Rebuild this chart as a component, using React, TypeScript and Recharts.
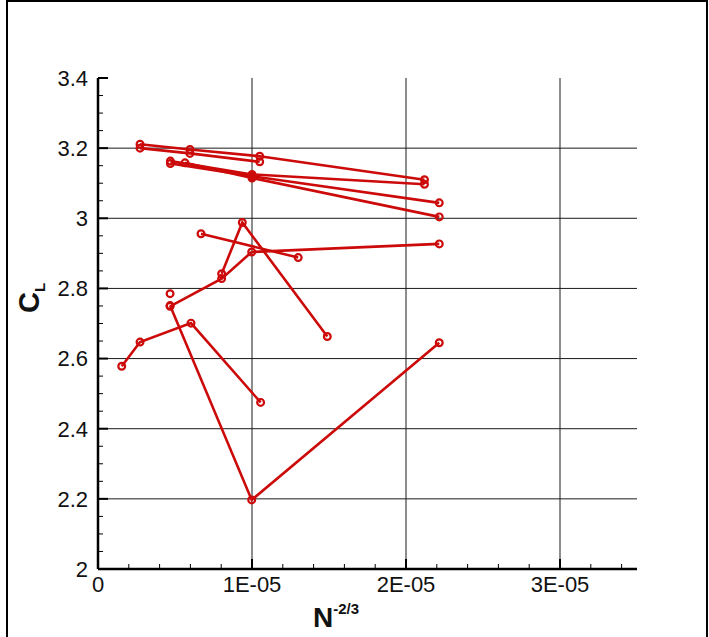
import { CartesianGrid, Scatter, ScatterChart, XAxis, YAxis } from "recharts";

// each run: [N^-2/3, CL]
const runA = [
  { x: 0.669e-5, y: 2.956 },
  { x: 1.3e-5, y: 2.888 },
];
const runB = [
  { x: 0.803e-5, y: 2.842 },
  { x: 0.937e-5, y: 2.988 },
  { x: 1.489e-5, y: 2.663 },
];
const runC = [
  { x: 0.468e-5, y: 2.749 },
  { x: 0.803e-5, y: 2.828 },
  { x: 0.998e-5, y: 2.904 },
  { x: 2.216e-5, y: 2.927 },
];
const runD = [
  { x: 0.468e-5, y: 2.751 },
  { x: 0.998e-5, y: 2.197 },
  { x: 2.216e-5, y: 2.645 },
];
const runE = [
  { x: 0.154e-5, y: 2.578 },
  { x: 0.273e-5, y: 2.647 },
  { x: 0.604e-5, y: 2.701 },
  { x: 1.056e-5, y: 2.475 },
];
const runF = [
  { x: 0.273e-5, y: 3.211 },
  { x: 0.597e-5, y: 3.196 },
  { x: 1.05e-5, y: 3.177 },
  { x: 2.12e-5, y: 3.11 },
];
const runG = [
  { x: 0.273e-5, y: 3.2 },
  { x: 0.597e-5, y: 3.185 },
  { x: 1.05e-5, y: 3.161 },
];
const runH = [
  { x: 0.47e-5, y: 3.163 },
  { x: 1.0e-5, y: 3.125 },
  { x: 2.12e-5, y: 3.097 },
];
const runI = [
  { x: 0.47e-5, y: 3.156 },
  { x: 1.0e-5, y: 3.12 },
  { x: 2.216e-5, y: 3.044 },
];
const runJ = [
  { x: 0.565e-5, y: 3.158 },
  { x: 1.0e-5, y: 3.115 },
  { x: 2.216e-5, y: 3.004 },
];
const runK = [{ x: 0.468e-5, y: 2.785 }];

const runs = [runA, runB, runC, runD, runE, runF, runG, runH, runI, runJ, runK];

const yMajor = [2, 2.2, 2.4, 2.6, 2.8, 3, 3.2, 3.4];
const yTicks = yMajor.flatMap((v) => (v < 3.4 ? [v, v + 0.05, v + 0.1, v + 0.15] : [v]));
const yGrid = [2.2, 2.4, 2.6, 2.8, 3, 3.2];

const xMajor = [0, 1e-5, 2e-5, 3e-5];
const xLabels = ["0", "1E-05", "2E-05", "3E-05"];
const xTicks = [
  0, 0.2e-5, 0.4e-5, 0.6e-5, 0.8e-5, 1e-5, 1.2e-5, 1.4e-5, 1.6e-5, 1.8e-5, 2e-5,
  2.2e-5, 2.4e-5, 2.6e-5, 2.8e-5, 3e-5, 3.2e-5, 3.4e-5,
];
const xGrid = [1e-5, 2e-5, 3e-5];

const RED = "#cc0a0a";
const FONT = "'Liberation Sans', Arial, Helvetica, sans-serif";

function YTick({ x, y, payload }: any) {
  const v = payload.value as number;
  const major = Math.abs(v * 5 - Math.round(v * 5)) < 1e-6;
  return (
    <g>
      <line x1={x} x2={x + (major ? 10 : 5)} y1={y} y2={y} stroke="#000" strokeWidth={major ? 2 : 1} />
      {major && (
        <text x={x - 10} y={y} dy="0.36em" textAnchor="end" fontSize={22} fontFamily={FONT} fill="#111">
          {String(Number(v.toFixed(2)))}
        </text>
      )}
    </g>
  );
}

function XTick({ x, y, payload }: any) {
  const v = payload.value as number;
  const idx = xMajor.findIndex((m) => Math.abs(m - v) < 1e-9);
  const major = idx >= 0;
  return (
    <g>
      <line x1={x} x2={x} y1={y} y2={y - (major ? 10 : 5)} stroke="#000" strokeWidth={major ? 2 : 1} />
      {major && (
        <text x={x} y={y + 23} textAnchor="middle" fontSize={22} fontFamily={FONT} fill="#111">
          {xLabels[idx]}
        </text>
      )}
    </g>
  );
}

function Marker({ cx, cy }: any) {
  if (cx == null || cy == null) return null;
  return <circle cx={cx} cy={cy} r={3.4} fill="none" stroke={RED} strokeWidth={2.2} />;
}

export default function App() {
  return (
    <div style={{ position: "absolute", left: 0, top: 0, width: 709, height: 637, background: "#fff" }}>
      <div
        style={{
          position: "absolute",
          left: 6,
          top: 0,
          width: 698,
          height: 637,
          borderLeft: "2px solid #000",
          borderTop: "2px solid #000",
          borderRight: "2px solid #000",
        }}
      />
      <ScatterChart width={709} height={637} margin={{ top: 78, right: 72, left: 38, bottom: 0 }}>
        <CartesianGrid
          horizontalValues={yGrid}
          verticalValues={xGrid}
          stroke="#1a1a1a"
          strokeWidth={1}
          strokeDasharray=""
        />
        <XAxis
          type="number"
          dataKey="x"
          domain={[0, 3.5e-5]}
          ticks={xTicks}
          allowDataOverflow
          height={68}
          tickSize={0}
          tickMargin={0}
          tickLine={false}
          axisLine={{ stroke: "#000", strokeWidth: 2.5 }}
          tick={<XTick />}
          interval={0}
        />
        <YAxis
          type="number"
          dataKey="y"
          domain={[2, 3.4]}
          ticks={yTicks}
          allowDataOverflow
          width={60}
          tickSize={0}
          tickMargin={0}
          tickLine={false}
          axisLine={{ stroke: "#000", strokeWidth: 2.5 }}
          tick={<YTick />}
          interval={0}
        />
        {runs.map((r, i) => (
          <Scatter
            key={i}
            data={r}
            line={{ stroke: RED, strokeWidth: 2.6 }}
            lineType="joint"
            shape={<Marker />}
            isAnimationActive={false}
          />
        ))}
      </ScatterChart>
      <svg width={709} height={637} style={{ position: "absolute", left: 0, top: 0, pointerEvents: "none" }}>
        <text x={336} y={627} textAnchor="middle" fontFamily={FONT} fontWeight="bold" fill="#111">
          <tspan fontSize={28}>N</tspan>
          <tspan fontSize={15} dy={-13}>-2/3</tspan>
        </text>
        <text
          transform="translate(39,298) rotate(-90)"
          textAnchor="middle"
          fontFamily={FONT}
          fontWeight="bold"
          fill="#111"
        >
          <tspan fontSize={29}>C</tspan>
          <tspan fontSize={15} dy={6}>L</tspan>
        </text>
      </svg>
    </div>
  );
}
